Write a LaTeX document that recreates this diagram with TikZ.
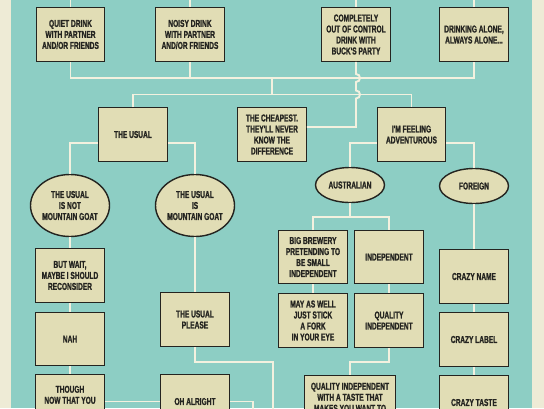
\documentclass[tikz,border=0pt]{standalone}
\usepackage{fontspec}
\newfontfamily\chartfont{Liberation Sans Bold}[FakeStretch=0.66, FakeBold=1.2]
\usetikzlibrary{positioning,shapes.geometric}

\definecolor{seafoam}{RGB}{141,206,196}
\definecolor{parchment}{RGB}{238,235,214}
\definecolor{boxfill}{RGB}{225,221,181}
\definecolor{linkline}{RGB}{243,241,223}
\definecolor{inkdark}{RGB}{36,36,32}

\begin{document}
\begin{tikzpicture}[
        x=1pt, y=-1pt,
        box/.style={
            draw=inkdark,
            line width=1.4pt,
            fill=boxfill,
            minimum width=68.5pt,
            minimum height=53.5pt,
            inner sep=2pt,
            align=center,
            text=inkdark,
            font=\chartfont\fontsize{10}{11}\selectfont
        },
        widebox/.style={
            box,
            minimum width=90.5pt
        },
        oval/.style={
            box,
            ellipse,
            inner sep=0pt,
            minimum width=79pt,
            minimum height=62pt
        },
        smalloval/.style={
            oval,
            minimum width=69pt,
            minimum height=35pt
        },
        boxtext/.style={
            inner sep=0pt,
            align=center,
            text=inkdark,
            font=\chartfont\fontsize{10}{11}\selectfont
        },
        link/.style={
            draw=linkline,
            line width=1.9pt
        }
    ]

    % ---------------------------------------------------------
    % Background
    % ---------------------------------------------------------
    \useasboundingbox (0,0) rectangle (544,408);
    \clip (0,0) rectangle (544,408);
    \fill[parchment] (0,0) rectangle (544,408);
    \fill[seafoam] (11,0) rectangle (532,408);

    % ---------------------------------------------------------
    % Boxes
    % ---------------------------------------------------------
    \node[box] (quiet) at (70.5,34.5) {QUIET DRINK\\WITH PARTNER\\AND/OR FRIENDS};
    \node[box] (noisy) at (190,34.5) {NOISY DRINK\\WITH PARTNER\\AND/OR FRIENDS};
    \node[box] (wild) at (356,34.5) {COMPLETELY\\OUT OF CONTROL\\DRINK WITH\\BUCK'S PARTY};
    \node[box] (alone) at (474,34.5) {DRINKING ALONE,\\ALWAYS ALONE...};

    \node[box] (usual) at (133,134.5) {THE USUAL};
    \node[box] (cheap) at (272,134.5) {THE CHEAPEST.\\THEY'LL NEVER\\KNOW THE\\DIFFERENCE};
    \node[box] (advent) at (411.5,134.5) {I'M FEELING\\ADVENTUROUS};

    \node[oval] (notgoat) at (70,205.5) {THE USUAL\\IS NOT\\MOUNTAIN GOAT};
    \node[oval] (isgoat) at (195,205.5) {THE USUAL\\IS\\MOUNTAIN GOAT};
    \node[smalloval] (aussie) at (350,185) {AUSTRALIAN};
    \node[smalloval] (foreign) at (474,186) {FOREIGN};

    % Left column
    \node[box] (butwait) at (70,275.5) {BUT WAIT,\\MAYBE I SHOULD\\RECONSIDER};
    \node[box] (nah) at (70,339) {NAH};
    \node[box] (though) at (70,401.5) {};
    \node[boxtext, below=11.5pt of though.north] (thoughtext) {THOUGH\\NOW THAT YOU};

    % Mountain goat column
    \node[box] (usualplease) at (195,319.5) {THE USUAL\\PLEASE};
    \node[box] (ohalright) at (195,401.5) {OH ALRIGHT};

    % Australian column
    \node[box] (bigbrew) at (313,257) {BIG BREWERY\\PRETENDING TO\\BE SMALL\\INDEPENDENT};
    \node[box] (indep) at (389,257) {INDEPENDENT};
    \node[box] (fork) at (313,320.5) {MAY AS WELL\\JUST STICK\\A FORK\\IN YOUR EYE};
    \node[box] (qualind) at (389,320.5) {QUALITY\\INDEPENDENT};
    \node[widebox] (tastewant) at (350,402.5) {};
    \node[boxtext, below=7.5pt of tastewant.north] (tastetext)
        {QUALITY INDEPENDENT\\WITH A TASTE THAT\\MAKES YOU WANT TO};

    % Foreign column
    \node[box] (crazyname) at (474,276.5) {CRAZY NAME};
    \node[box] (crazylabel) at (474,339.5) {CRAZY LABEL};
    \node[box] (crazytaste) at (474,402.5) {CRAZY TASTE};

    % ---------------------------------------------------------
    % Connectors
    % ---------------------------------------------------------
    \coordinate (top) at (0,-5);
    \coordinate (hubA) at (272,78);
    \coordinate (hubB) at (272,94.5);
    \coordinate (hopA) at (wild |- hubA);
    \coordinate (hopB) at (wild |- hubB);
    \coordinate (offA) at (273,415);
    \coordinate (offB) at (253,415);

    \foreach \n in {quiet,noisy,wild,alone} {
        \draw[link] (\n) -- (\n |- top);
    }

    % Top row into the middle row
    \draw[link] (quiet) |- (hubA) -| (alone);
    \draw[link] (noisy) -- (noisy |- hubA);
    \draw[link] (hubA) -- (hubB);
    \draw[link] (usual) |- (hubB) -| (advent);

    % Buck's party hops over to the cheapest
    \draw[link] (wild)
        -- ([yshift=4pt]hopA)
        to[out=0, in=0, looseness=1.7] ([yshift=-4pt]hopA)
        -- ([yshift=4pt]hopB)
        to[out=0, in=0, looseness=1.7] ([yshift=-4pt]hopB)
        |- ([yshift=7.5pt]cheap.east);

    % Branches
    \draw[link] ([yshift=-8.5pt]usual.west) -| (notgoat);
    \draw[link] ([yshift=-8.5pt]usual.east) -| (isgoat);
    \draw[link] ([yshift=-8.5pt]advent.west) -| (aussie);
    \draw[link] ([yshift=-8.5pt]advent.east) -| (foreign);

    % Left column
    \draw[link] (notgoat) -- (butwait);
    \draw[link] (butwait) -- (nah);
    \draw[link] (nah) -- (though);
    \draw[link] (though) -- (ohalright);
    \draw[link] (ohalright.east) -| (offB);

    % Mountain goat
    \draw[link] (isgoat) -- (usualplease);
    \draw[link] (usualplease.south) -- ++(0,15) -| (offA);

    % Australian
    \draw[link] (aussie.south) -- ++(0,14) coordinate (split);
    \draw[link] (bigbrew) |- (split) -| (indep);
    \draw[link] (bigbrew) -- (fork);
    \draw[link] (indep) -- (qualind);
    \draw[link] (qualind.south) -- ++(0,14) -| (tastewant);

    % Foreign
    \draw[link] (foreign) -- (crazyname);
    \draw[link] (crazyname) -- (crazylabel);
    \draw[link] (crazylabel) -- (crazytaste);

\end{tikzpicture}
\end{document}
